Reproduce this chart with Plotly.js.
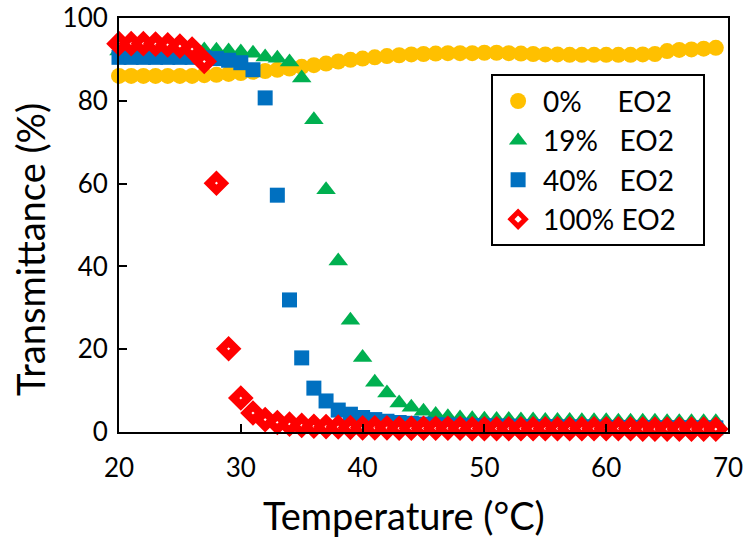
<!DOCTYPE html>
<html>
<head>
<meta charset="utf-8">
<script src="https://cdn.plot.ly/plotly-3.0.1.min.js"></script>
<style>
  body { margin: 0; background: #fff; }
  #chart { width: 750px; height: 552px; }
</style>
</head>
<body>
<div id="chart"></div>
<script>
// temperatures (°C), one reading per degree
let temps = [];
for (let t = 20; t <= 69; t++) temps.push(t);

// transmittance (%) for each EO2 content
let eo2_0 = [86, 86, 86, 86, 86, 86, 86, 86.2, 86.3, 86.5, 86.7,
  87, 87.2, 87.5, 87.8, 88.2, 88.6, 89, 89.5, 89.9, 90.2,
  90.5, 90.8, 91, 91.2, 91.3, 91.4, 91.5, 91.5, 91.5, 91.6,
  91.6, 91.5, 91.4, 91.3, 91.2, 91.2, 91.1, 91.1, 91.1, 91.1,
  91.1, 91.1, 91.2, 91.3, 92, 92.3, 92.4, 92.6, 92.8];

let eo2_19 = [92, 92, 92, 92, 92, 92, 92, 92.3, 92.2, 92, 91.8,
  91.5, 90.6, 90.3, 89.4, 85.5, 75.4, 58.5, 41.3, 27, 18,
  12, 9.4, 7, 6, 5, 4.2, 3.7, 3.4, 3.2, 3.1,
  3.0, 3.0, 2.9, 2.9, 2.8, 2.8, 2.8, 2.7, 2.7, 2.7,
  2.6, 2.6, 2.6, 2.6, 2.5, 2.5, 2.5, 2.5, 2.5];

let eo2_40 = [90.5, 90.5, 90.5, 90.5, 90.5, 90.5, 90.5, 90.4, 90.2, 89.8, 89.2,
  87.5, 80.7, 57.2, 31.9, 17.9, 10.6, 7.5, 5.3, 4.3, 3.5,
  3.0, 2.6, 2.3, 2.1, 1.9, 1.8, 1.7, 1.6, 1.5, 1.5,
  1.4, 1.4, 1.3, 1.3, 1.3, 1.2, 1.2, 1.2, 1.2, 1.1,
  1.1, 1.1, 1.1, 1.0, 1.0, 1.0, 1.0, 1.0, 1.0];

let eo2_100 = [93.8, 93.8, 93.8, 93.7, 93.5, 93.2, 92.5, 89.5, 60.1, 20.1, 8.2,
  4.6, 3.0, 2.3, 1.9, 1.6, 1.4, 1.3, 1.2, 1.1, 1.0,
  1.0, 1.0, 0.9, 0.9, 0.9, 0.9, 0.9, 0.9, 0.8, 0.8,
  0.8, 0.8, 0.8, 0.8, 0.8, 0.8, 0.8, 0.8, 0.8, 0.8,
  0.8, 0.8, 0.7, 0.7, 0.7, 0.7, 0.7, 0.7, 0.7];

let nb = "\u00a0";
let names = ["0%" + nb.repeat(5) + "EO2" + nb.repeat(2), "19%" + nb.repeat(3) + "EO2" + nb.repeat(2),
             "40%" + nb.repeat(3) + "EO2" + nb.repeat(2), "100%" + nb + "EO2" + nb.repeat(3)];

let font = "Lato, 'Open Sans', sans-serif";

let data = [
  {x: temps, y: eo2_0, name: names[0], legendgroup: "a", type: "scatter", mode: "markers", cliponaxis: false,
   marker: {symbol: "circle", size: 16, color: "#FFC000"}},
  {x: temps, y: eo2_19, name: names[1], legendgroup: "b", type: "scatter", mode: "markers", cliponaxis: false,
   marker: {symbol: "triangle-up", size: 17, color: "#00B050"}},
  {x: temps, y: eo2_40, name: names[2], legendgroup: "c", type: "scatter", mode: "markers", cliponaxis: false,
   marker: {symbol: "square", size: 15, color: "#0070C0"}},
  {x: temps, y: eo2_100, name: names[3], legendgroup: "d", type: "scatter", mode: "markers", cliponaxis: false,
   marker: {symbol: "diamond", size: 11, color: "#FFFFFF", line: {color: "#FF0000", width: 8}}}
];

let layout = {
  width: 750,
  height: 552,
  margin: {l: 119, r: 22, t: 18, b: 120},
  paper_bgcolor: "#fff",
  plot_bgcolor: "#fff",
  font: {family: font, color: "#000", size: 26},
  showlegend: true,
  legend: {
    x: 0.611, y: 0.864, xanchor: "left", yanchor: "top",
    bgcolor: "#fff", bordercolor: "#000", borderwidth: 2,
    font: {family: font, size: 28, color: "#000"},
    itemwidth: 40,
    tracegroupgap: 4,
    traceorder: "normal"
  },
  xaxis: {
    range: [20, 70],
    tickvals: [20, 30, 40, 50, 60, 70],
    ticks: "inside", ticklen: 8, tickwidth: 2, tickcolor: "#000",
    showline: true, linecolor: "#000", linewidth: 2, mirror: true,
    showgrid: false, zeroline: false,
    ticklabelstandoff: 12,
    tickfont: {size: 26}
  },
  yaxis: {
    range: [0, 100],
    tickvals: [0, 20, 40, 60, 80, 100],
    ticks: "inside", ticklen: 8, tickwidth: 2, tickcolor: "#000",
    showline: true, linecolor: "#000", linewidth: 2, mirror: true,
    showgrid: false, zeroline: false,
    ticklabelstandoff: 4,
    tickfont: {size: 26}
  },
  // axis titles sit off-centre in the original, so they are placed as annotations
  annotations: [
    {text: "Temperature (°C)", xref: "paper", yref: "paper", x: 0.468, y: -0.2,
     xanchor: "center", yanchor: "middle", showarrow: false, font: {size: 38}},
    {text: "Transmittance (%)", xref: "paper", yref: "paper", x: -0.146, y: 0.44,
     xanchor: "center", yanchor: "middle", textangle: -90, showarrow: false, font: {size: 38}}
  ]
};

Plotly.newPlot("chart", data, layout, {displayModeBar: false});
</script>
</body>
</html>
